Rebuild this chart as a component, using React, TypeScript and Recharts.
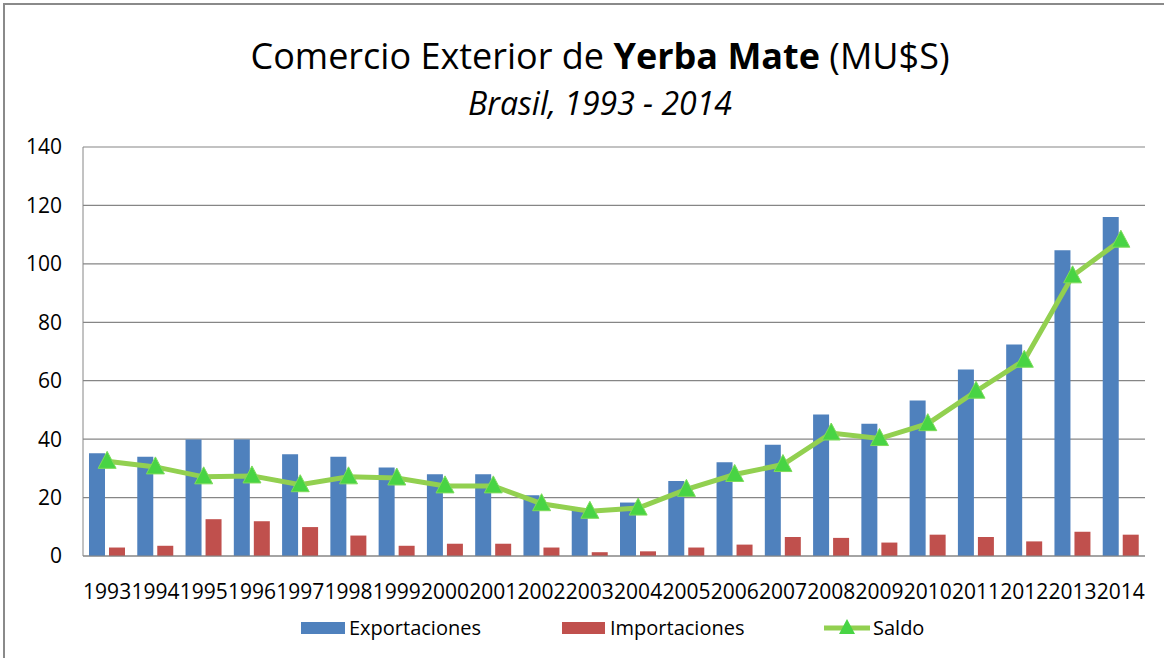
import React from 'react';
import { ComposedChart, Bar, Line, XAxis, YAxis, CartesianGrid } from 'recharts';

const years = ['1993', '1994', '1995', '1996', '1997', '1998', '1999', '2000', '2001', '2002', '2003', '2004', '2005', '2006', '2007', '2008', '2009', '2010', '2011', '2012', '2013', '2014'];
const exportaciones = [35.2, 34.0, 39.9, 39.9, 34.8, 34.0, 30.3, 28.0, 28.0, 20.8, 15.8, 18.3, 25.7, 32.1, 38.1, 48.4, 45.3, 53.2, 63.8, 72.4, 104.7, 116.0];
const importaciones = [2.9, 3.5, 12.6, 11.9, 9.9, 7.0, 3.5, 4.2, 4.2, 2.9, 1.3, 1.6, 2.9, 3.9, 6.5, 6.2, 4.6, 7.3, 6.5, 5.0, 8.3, 7.3];
const saldo = [32.4, 30.5, 27.1, 27.4, 24.4, 27.1, 26.7, 24.0, 24.0, 17.9, 15.3, 16.4, 22.8, 27.9, 31.3, 42.1, 40.2, 45.3, 56.4, 67.0, 95.9, 108.1];
const yTicks = [0, 20, 40, 60, 80, 100, 120, 140];

const data = years.map((y, i) => ({
    year: y,
    exp: exportaciones[i],
    imp: importaciones[i],
    saldo: saldo[i],
}));

const FONT = '"Open Sans", sans-serif';
const BLUE = '#4F81BD';
const RED = '#C0504D';
const LINE_GREEN = '#92D050';
const TRI_GREEN = '#48D444';

// triangle marker like Excel's
const Triangle = (props: any) => {
    const { cx, cy } = props;
    if (cx == null || cy == null) return null;
    return (
        <polygon
            points={`${cx},${cy - 10} ${cx - 9},${cy + 7} ${cx + 9},${cy + 7}`}
            fill={TRI_GREEN}
            stroke="#7EDB5A"
            strokeWidth={1}
        />
    );
};

export default function App() {
    return (
        <div style={{ position: 'fixed', left: 0, top: 0, width: 1164, height: 658, background: '#fff', overflow: 'hidden', fontFamily: FONT }}>
            {/* outer frame */}
            <div style={{ position: 'absolute', left: 3, top: 3, width: 1170, height: 670, borderTop: '2px solid #8a8a8a', borderLeft: '2px solid #8a8a8a' }} />

            <div style={{ position: 'absolute', left: 0, top: 31, width: 1200, textAlign: 'center', fontSize: 36, color: '#000', whiteSpace: 'nowrap' }}>
                Comercio Exterior de <b>Yerba Mate</b> (MU$S)
            </div>
            <div style={{ position: 'absolute', left: 0, top: 81, width: 1200, textAlign: 'center', fontSize: 32, fontStyle: 'italic', color: '#000' }}>
                Brasil, 1993 - 2014
            </div>

            <div style={{ position: 'absolute', left: 0, top: 0 }}>
                <ComposedChart width={1164} height={658} data={data} margin={{ top: 147, right: 19, bottom: 72, left: 0 }} barSize={16} barGap={4}>
                    <CartesianGrid vertical={false} stroke="#868686" strokeWidth={1.2} />
                    <XAxis
                        dataKey="year"
                        interval={0}
                        height={30}
                        tickLine={false}
                        tickSize={0}
                        tickMargin={28}
                        stroke="#868686"
                        tick={{ fontSize: 21, fill: '#000', fontFamily: FONT }}
                    />
                    <YAxis
                        width={83}
                        domain={[0, 140]}
                        ticks={yTicks}
                        tickLine={false}
                        tickSize={0}
                        tickMargin={21}
                        stroke="#868686"
                        tick={{ fontSize: 21, fill: '#000', fontFamily: FONT }}
                    />
                    <Bar dataKey="exp" name="Exportaciones" fill={BLUE} isAnimationActive={false} />
                    <Bar dataKey="imp" name="Importaciones" fill={RED} isAnimationActive={false} />
                    <Line
                        dataKey="saldo"
                        name="Saldo"
                        stroke={LINE_GREEN}
                        strokeWidth={5}
                        dot={<Triangle />}
                        activeDot={false}
                        isAnimationActive={false}
                    />
                </ComposedChart>
            </div>

            {/* legend */}
            <div style={{ position: 'absolute', left: 0, top: 615, width: 1164, height: 26, fontSize: 20, color: '#000' }}>
                <div style={{ position: 'absolute', left: 301, top: 7, width: 44, height: 12, background: BLUE }} />
                <span style={{ position: 'absolute', left: 349, top: 0, lineHeight: '26px' }}>Exportaciones</span>
                <div style={{ position: 'absolute', left: 562, top: 7, width: 43, height: 12, background: RED }} />
                <span style={{ position: 'absolute', left: 610, top: 0, lineHeight: '26px' }}>Importaciones</span>
                <svg style={{ position: 'absolute', left: 822, top: 0 }} width={50} height={26}>
                    <line x1={2} y1={13} x2={48} y2={13} stroke={LINE_GREEN} strokeWidth={5} />
                    <polygon points="25,4 17,19 33,19" fill={TRI_GREEN} />
                </svg>
                <span style={{ position: 'absolute', left: 873, top: 0, lineHeight: '26px' }}>Saldo</span>
            </div>
        </div>
    );
}
